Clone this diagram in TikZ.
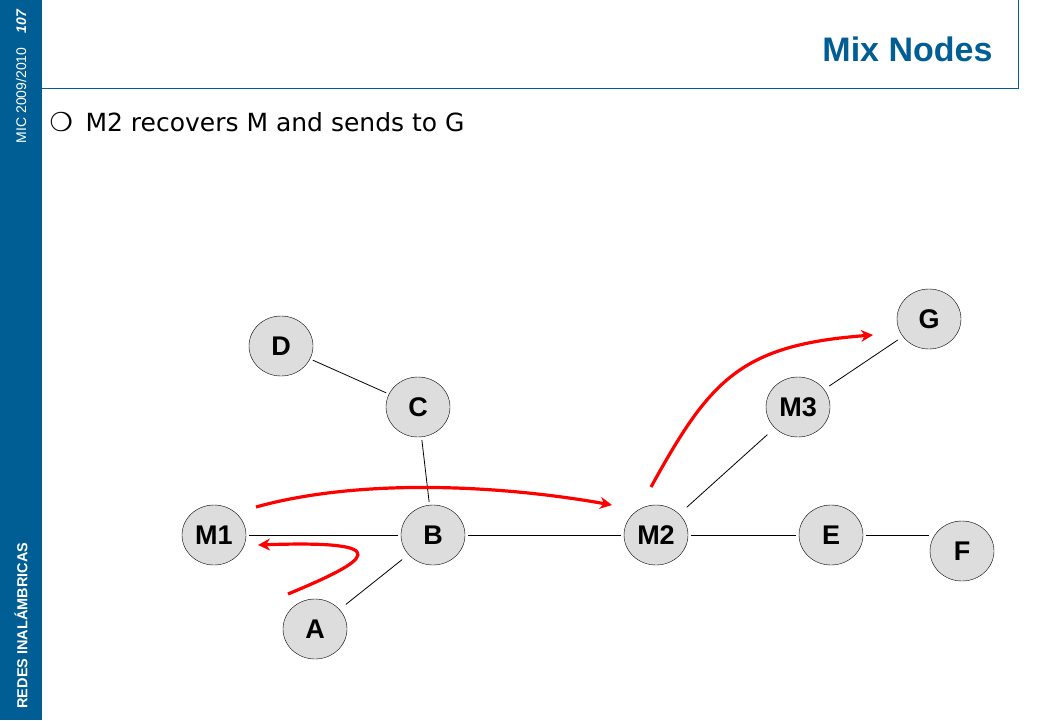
\documentclass[tikz,border=0pt]{standalone}
\usepackage{fontspec}
\setmainfont{Liberation Sans}
\newfontfamily\dv{DejaVu Sans}
\usetikzlibrary{shapes.geometric,arrows.meta}
\definecolor{slideblue}{RGB}{0,94,148}
\definecolor{nodegray}{RGB}{221,221,221}
\begin{document}
\begin{tikzpicture}[x=1pt,y=-1pt,
  nd/.style={ellipse,draw,fill=nodegray,minimum width=64pt,minimum height=60pt,inner sep=0pt,font=\fontsize{27}{27}\selectfont\bfseries},
  lk/.style={draw,line width=0.8pt,shorten >=3pt,shorten <=3pt},
  rd/.style={draw=red,line width=3.2pt,-{Stealth[length=12pt,width=12pt]}}]
\useasboundingbox (0,0) rectangle (1040,720);
\fill[slideblue] (0,0) rectangle (42,720);
\draw[slideblue,line width=1pt] (42,88) -- (1018,88) -- (1018,0);
\node[rotate=90,anchor=west,text=white,font=\fontsize{14.5}{14.5}\selectfont\bfseries] (s1) at (21,712) {REDES INALÁMBRICAS};
\node[rotate=90,anchor=east,text=white,font=\fontsize{14}{14}\selectfont] (s2) at (21,6) {MIC 2009/2010\quad\textbf{\textit{107}}};
\node[anchor=east,text=slideblue,font=\fontsize{34}{34}\selectfont\bfseries] (t) at (996,49) {Mix Nodes};
\node[anchor=west,font=\fontsize{26}{26}\selectfont\dv\bfseries] (bl) at (46,122) {❍};
\node[anchor=west,font=\fontsize{25}{25}\selectfont\dv] (bt) at (82,122) {M2 recovers M and sends to G};
\node[nd] (D) at (281,346) {D};
\node[nd] (C) at (418,407) {C};
\node[nd] (M3) at (798,407) {M3};
\node[nd] (G) at (929,319) {G};
\node[nd] (M1) at (214,535) {M1};
\node[nd] (B) at (433,535) {B};
\node[nd] (M2) at (656,535) {M2};
\node[nd] (E) at (831,535) {E};
\node[nd] (F) at (962,551) {F};
\node[nd] (A) at (315,629) {A};
\coordinate (fe) at (929,535);
\draw[lk] (D) -- (C);
\draw[lk] (C) -- (B);
\draw[lk] (M1) -- (B);
\draw[lk] (B) -- (M2);
\draw[lk] (M2) -- (E);
\draw[lk,shorten >=0pt] (E) -- (fe);
\draw[lk,shorten <=8pt,shorten >=8pt] (B) -- (A);
\draw[lk,shorten <=10pt,shorten >=10pt] (M2) -- (M3);
\draw[lk,shorten <=6pt,shorten >=6pt] (M3) -- (G);
\coordinate (r1s) at (256,507);
\coordinate (r1e) at (612,505);
\coordinate (r2s) at (288,594);
\coordinate (r2e) at (258,545);
\coordinate (r3s) at (651,487);
\coordinate (r3e) at (873,335);
\draw[rd] (r1s) .. controls (360,478) and (500,485) .. (r1e);
\draw[rd] (r2s) .. controls (370,560) and (400,540) .. (r2e);
\draw[rd] (r3s) .. controls (710,380) and (740,345) .. (r3e);
\end{tikzpicture}
\end{document}
